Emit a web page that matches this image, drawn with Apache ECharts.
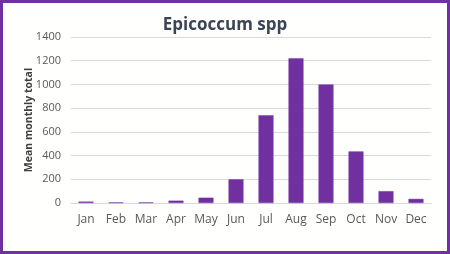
<!DOCTYPE html>
<html>
<head>
<meta charset="utf-8">
<script src="https://cdn.jsdelivr.net/npm/echarts@6/dist/echarts.min.js"></script>
<style>
html,body{margin:0;padding:0;background:#fff;}
#frame{position:absolute;left:0;top:0;width:444px;height:248px;border:3px solid #7030A0;background:#fffffd;}
#chart{width:444px;height:248px;}
</style>
</head>
<body>
<div id="frame"><div id="chart"></div></div>
<script>
const titleText = "Epicoccum spp";
const yAxisName = "Mean monthly total";
const months = ["Jan","Feb","Mar","Apr","May","Jun","Jul","Aug","Sep","Oct","Nov","Dec"];
const values = [12, 5, 5, 20, 45, 200, 740, 1220, 1000, 435, 100, 35];
const yMin = 0, yMax = 1400, yStep = 200;

const chart = echarts.init(document.getElementById('chart'), null, {renderer:'canvas'});
chart.setOption({
  animation:false,
  title:{
    text:titleText, left:'center', top:9,
    textStyle:{fontFamily:'Open Sans', fontSize:17, fontWeight:'bold', color:'#3c4555'}
  },
  grid:{left:68, right:16, top:34, bottom:48},
  xAxis:{
    type:'category', data:months,
    axisLine:{show:true, lineStyle:{color:'#d9d9d9'}},
    axisTick:{show:false},
    axisLabel:{fontFamily:'Open Sans', fontSize:12, color:'#595959', margin:11, interval:0}
  },
  yAxis:{
    type:'value', min:yMin, max:yMax, interval:yStep,
    name:yAxisName, nameLocation:'middle', nameGap:36, nameRotate:90, nameMoveOverlap:false,
    nameTextStyle:{fontFamily:'Open Sans', fontSize:10.5, fontWeight:'bold', color:'#404040'},
    axisLine:{show:false}, axisTick:{show:false},
    axisLabel:{fontFamily:'Open Sans', fontSize:11, color:'#595959', margin:10, formatter:function(v){return String(v);}},
    splitLine:{lineStyle:{color:'#d9d9d9'}}
  },
  series:[{
    type:'bar', data:values, barCategoryGap:'50%',
    itemStyle:{color:'#7030A0', borderColor:'#7a3aaa', borderWidth:0.5}
  }]
});
</script>
</body>
</html>
